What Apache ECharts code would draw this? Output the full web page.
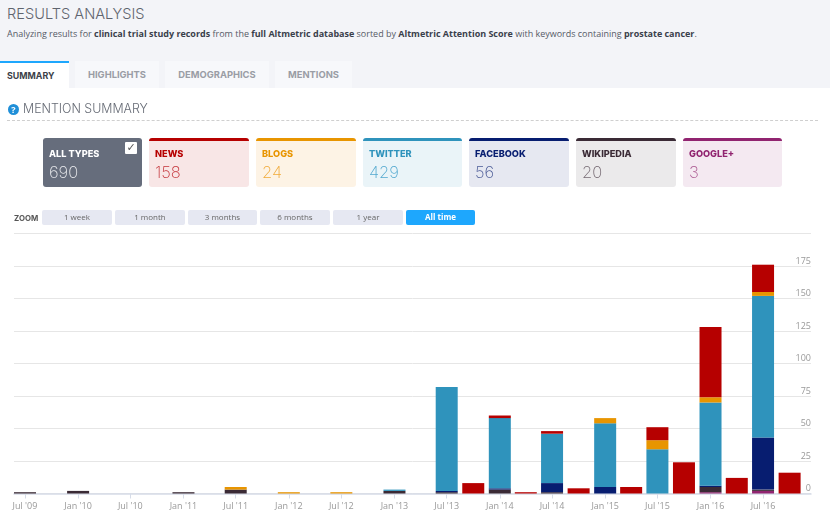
<!DOCTYPE html>
<html><head><meta charset="utf-8">
<script src="https://cdn.jsdelivr.net/npm/echarts@6/dist/echarts.min.js"></script>
<style>
html,body{margin:0;padding:0;background:#fff;width:830px;height:519px;overflow:hidden}
#page{position:relative;width:830px;height:519px;font-family:"Open Sans",sans-serif}
#page div,#page span{position:absolute;white-space:nowrap;box-sizing:border-box}
#chart{left:0;top:0;width:830px;height:519px}
#head{left:0;top:0;width:830px;height:88px;background:#f3f4f8}
#title{left:7px;top:4px;font:300 14.6px/20px Inter,sans-serif;color:#5f646e}
#sub{left:7px;top:26px;font-size:8.98px;line-height:15px;color:#555a66}
#sub b{color:#3a3f4b}
.tab{top:61px;height:27px;background:#f7f8fb;color:#9a9da5;font:700 9.4px/28px Inter,sans-serif;text-align:center}
.tab.on{background:#fff;color:#3c3f48;border-top:2px solid #1ea7fd;line-height:25px;font-size:8.9px;text-align:left;padding-left:7px}
#q{left:8px;top:104px;width:11px;height:11px;border-radius:50%;background:#1f8fd8;color:#fff;font:700 9px/11px "Open Sans",sans-serif;text-align:center}
#ms{left:23px;top:100px;font:300 12.4px/18px Inter,sans-serif;color:#666b75}
#dash{left:7px;top:120px;width:811px;height:0;border-top:1px dashed #cfcfcf}
.card{top:138px;height:49px;border-top:3px solid;border-radius:3px}
.card .l{left:6px;top:6px;font:800 9.2px/13px Inter,sans-serif}
.card .v{left:6px;top:20px;font:200 16.5px/22px Inter,sans-serif}
#chk{left:82px;top:1px;width:12px;height:12px;background:#fff;border-radius:1px;color:#555;font:700 11px/12px "DejaVu Sans",sans-serif;text-align:center}
#zl{left:14px;top:212px;font:700 7.8px/12px Inter,sans-serif;color:#555}
.b{top:210px;height:15px;background:#e6e8f2;color:#666;border-radius:2px;font-size:8px;line-height:14px;text-align:center}
.b.on{background:#1ea7fd;color:#fff;font-weight:700}
</style></head><body>
<div id="page">
<div id="chart"></div>
<div id="head"></div>
<div id="title">RESULTS ANALYSIS</div>
<div id="sub">Analyzing results for <b>clinical trial study records</b> from the <b>full Altmetric database</b> sorted by <b>Altmetric Attention Score</b> with keywords containing <b>prostate cancer</b>.</div>
<div class="tab on" style="left:0;width:69px">SUMMARY</div>
<div class="tab" style="left:75px;width:84px">HIGHLIGHTS</div>
<div class="tab" style="left:165px;width:104px">DEMOGRAPHICS</div>
<div class="tab" style="left:275px;width:77px">MENTIONS</div>
<div id="q">?</div>
<div id="ms">MENTION SUMMARY</div>
<div id="dash"></div>
<div class="card" style="left:43px;width:99px;background:#666d7c;border-color:#666d7c"><span class="l" style="color:#fff">ALL TYPES</span><span class="v" style="color:#e8e9ec">690</span><div id="chk">✓</div></div>
<div class="card" style="left:149px;width:100px;background:#f8e6e6;border-color:#b60000"><span class="l" style="color:#b60000">NEWS</span><span class="v" style="color:#c4343a">158</span></div>
<div class="card" style="left:256px;width:100px;background:#fdf3e5;border-color:#e89500"><span class="l" style="color:#e89500">BLOGS</span><span class="v" style="color:#f0aa38">24</span></div>
<div class="card" style="left:363px;width:99px;background:#eaf4f8;border-color:#2f93bc"><span class="l" style="color:#2f93bc">TWITTER</span><span class="v" style="color:#52a8cf">429</span></div>
<div class="card" style="left:469px;width:100px;background:#e6e8f1;border-color:#071d70"><span class="l" style="color:#071d70">FACEBOOK</span><span class="v" style="color:#4a5a96">56</span></div>
<div class="card" style="left:576px;width:100px;background:#ebeaeb;border-color:#3a2a35"><span class="l" style="color:#3a2a35">WIKIPEDIA</span><span class="v" style="color:#766b73">20</span></div>
<div class="card" style="left:683px;width:99px;background:#f4e9f1;border-color:#912470"><span class="l" style="color:#912470">GOOGLE+</span><span class="v" style="color:#a9568f">3</span></div>
<div id="zl">ZOOM</div>
<div class="b" style="left:42px;width:70px">1 week</div>
<div class="b" style="left:115px;width:70px">1 month</div>
<div class="b" style="left:188px;width:69px">3 months</div>
<div class="b" style="left:260px;width:70px">6 months</div>
<div class="b" style="left:333px;width:70px">1 year</div>
<div class="b on" style="left:406px;width:69px">All time</div>
</div>
<script>
const quarters = ['2009-07-01','2009-10-01','2010-01-01','2010-04-01','2010-07-01','2010-10-01','2011-01-01','2011-04-01','2011-07-01','2011-10-01','2012-01-01','2012-04-01','2012-07-01','2012-10-01','2013-01-01','2013-04-01','2013-07-01','2013-10-01','2014-01-01','2014-04-01','2014-07-01','2014-10-01','2015-01-01','2015-04-01','2015-07-01','2015-10-01','2016-01-01','2016-04-01','2016-07-01','2016-10-01'];
const googleVals    = [0,0,0,0,0,0,0,0,0,0,0,0,0,0,0,0,0,0,0,0,0,0,0,0,0,0,1,0,2,0];
const wikipediaVals = [1,0,2,0,0,0,1,0,3,0,0,0,0,0,2,0,1,0,3,0,1,0,0,0,0,0,4,0,1,0];
const facebookVals  = [0,0,0,0,0,0,0,0,0,0,0,0,0,0,0,0,1,0,1,0,7,0,5,0,0,0,1,0,40,0];
const twitterVals   = [0,0,0,0,0,0,0,0,0,0,0,0,0,0,1,0,80,0,54,0,38,0,49,0,34,0,64,0,109,0];
const blogsVals     = [0,0,0,0,0,0,0,0,2,0,1,0,1,0,0,0,0,0,0,0,0,0,4,0,7,0,4,0,3,0];
const newsVals      = [0,0,0,0,0,0,0,0,0,0,0,0,0,0,0,0,0,8,2,1,2,4,0,5,10,24,54,12,21,16];
const tickDates  = ['2009-07-01','2010-01-01','2010-07-01','2011-01-01','2011-07-01','2012-01-01','2012-07-01','2013-01-01','2013-07-01','2014-01-01','2014-07-01','2015-01-01','2015-07-01','2016-01-01','2016-07-01'];
const tickLabels = ["Jul '09","Jan '10","Jul '10","Jan '11","Jul '11","Jan '12","Jul '12","Jan '13","Jul '13","Jan '14","Jul '14","Jan '15","Jul '15","Jan '16","Jul '16"];
const yTicks = [0,25,50,75,100,125,150,175,200];

const ts = s => new Date(s + 'T00:00:00Z').getTime();
const tickTimes = tickDates.map(ts);
const xMin = ts('2009-05-24'), xMax = ts('2016-12-14');
// ECharts widens a bar-bearing time axis by half a bar each side; these ends widen to xMin..xMax
const barAxisMin = ts('2009-07-01'), barAxisMax = ts('2016-11-06');
const mk = (name, vals, color) => ({
  name, type:'bar', stack:'m', barWidth:22, color, silent:true, animation:false,
  xAxisIndex:0, yAxisIndex:0,
  data: quarters.map((q,i)=>[ts(q), vals[i]])
});
const chart = echarts.init(document.getElementById('chart'), null, {renderer:'canvas'});
chart.setOption({
  animation:false,
  grid:{left:14, right:19, top:233.5, bottom:25.5, containLabel:false},
  xAxis:[{
    type:'time', min:barAxisMin, max:barAxisMax, position:'bottom',
    axisLine:{show:false}, axisTick:{show:false}, axisLabel:{show:false}, splitLine:{show:false}
  },{
    type:'value', min:xMin, max:xMax, position:'bottom',
    axisLine:{onZero:false,lineStyle:{color:'#d6dce8',width:1.5}},
    axisTick:{show:true,length:5,lineStyle:{color:'#d6dce8'},customValues:tickTimes},
    minorTick:{show:false}, splitLine:{show:false},
    axisLabel:{customValues:tickTimes,color:'#999',fontSize:9,fontFamily:'"Open Sans",sans-serif',margin:8,hideOverlap:false,showMinLabel:true,showMaxLabel:true,
      formatter:v=>tickLabels[tickTimes.indexOf(v)]||''}
  }],
  yAxis:{
    type:'value', position:'right', min:0, max:200, interval:25,
    axisLine:{show:false}, axisTick:{show:false},
    splitLine:{lineStyle:{color:'#e6e6e6',width:1}},
    axisLabel:{inside:true,margin:0,verticalAlign:'bottom',lineHeight:10,align:'right',color:'#999',fontSize:9,fontFamily:'"Open Sans",sans-serif',
      formatter:v=>(v===yTicks[yTicks.length-1]?'':String(v))}
  },
  series:[
    mk('Google+',googleVals,'#912470'),
    mk('Wikipedia',wikipediaVals,'#3a2a35'),
    mk('Facebook',facebookVals,'#071d70'),
    mk('Twitter',twitterVals,'#2f93bc'),
    mk('Blogs',blogsVals,'#e89500'),
    mk('News',newsVals,'#b60000')
  ]
});
</script>
</body></html>
